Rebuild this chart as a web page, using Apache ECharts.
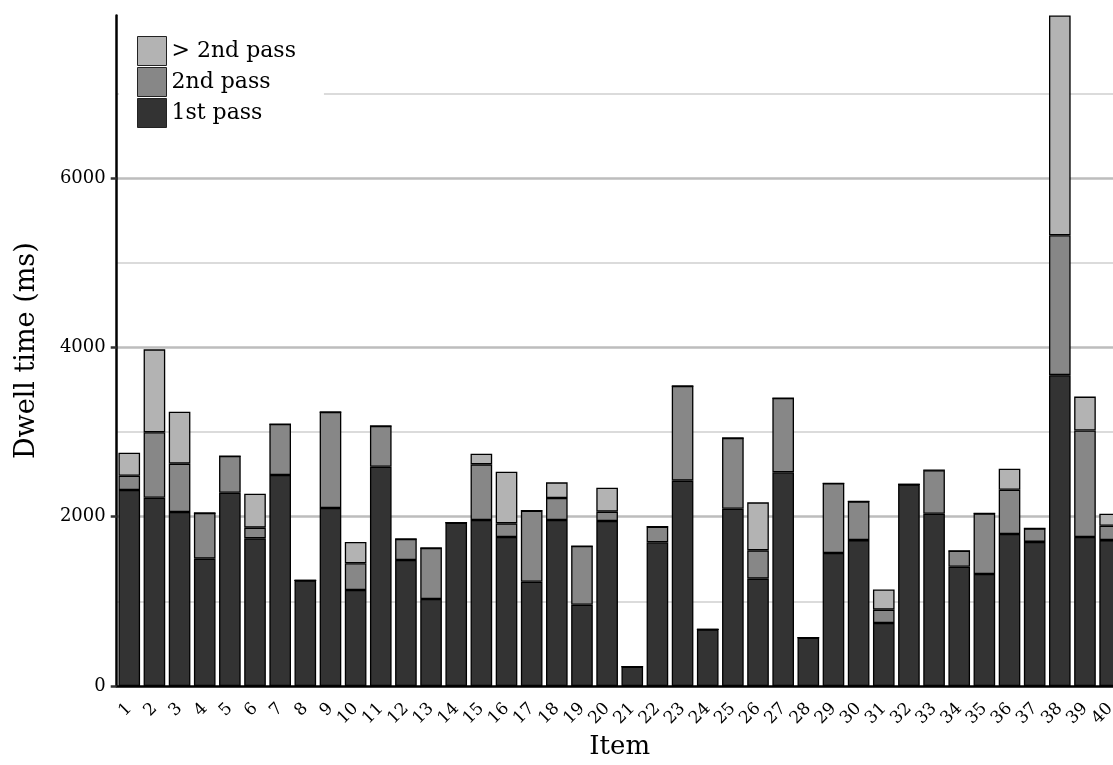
<!DOCTYPE html>
<html>
<head>
<meta charset="utf-8">
<script src="https://cdn.jsdelivr.net/npm/echarts@6/dist/echarts.min.js"></script>
<style>html,body{margin:0;padding:0;background:#fff}#c{width:1113px;height:765px}</style>
</head>
<body>
<div id="c"></div>
<script>
const items = ['1','2','3','4','5','6','7','8','9','10','11','12','13','14','15','16','17','18','19','20','21','22','23','24','25','26','27','28','29','30','31','32','33','34','35','36','37','38','39','40'];
const firstPass = [2315,2224,2055,1504,2283,1744,2492,1248,2102,1134,2590,1488,1027,1929,1960,1760,1232,1960,960,1949,228,1697,2425,669,2094,1268,2524,571,1570,1723,744,2381,2034,1408,1323,1796,1702,3671,1760,1723];
const secondPass = [169,772,571,539,433,126,602,0,1134,315,481,248,603,0,658,161,839,260,693,110,0,185,1118,0,835,334,877,0,824,458,158,0,515,189,715,522,158,1652,1258,169];
const laterPass = [271,980,614,0,0,401,0,0,0,252,0,0,0,0,126,610,0,185,0,283,0,0,0,0,0,567,0,0,0,0,237,0,0,0,0,247,0,2595,400,142];
const yTicks = [0,2000,4000,6000];

const FONT = 'DejaVu Serif';
const chart = echarts.init(document.getElementById('c'), null, {renderer:'canvas'});
const mk = (name, data, color) => ({
  name, type:'bar', stack:'t', data,
  barCategoryGap:'14%',
  itemStyle:{color, borderColor:'#000', borderWidth:1.3},
  emphasis:{disabled:true}, animation:false
});
chart.setOption({
  animation:false,
  grid:{left:116.7, top:15.4, width:1006, bottom:79, containLabel:false, outerBoundsMode:'none'},
  legend:{
    orient:'vertical', left:119, top:31,
    padding:[5,28,5,18],
    backgroundColor:'#fff',
    itemWidth:29, itemHeight:29, itemGap:1,
    icon:'rect',
    textStyle:{fontFamily:FONT, fontSize:22, color:'#000', padding:[0,0,0,0]},
    data:['> 2nd pass','2nd pass','1st pass'],
    itemStyle:{borderColor:'#222', borderWidth:1}
  },
  xAxis:{
    type:'category', data:items,
    name:'Item', nameLocation:'middle', nameGap:46,
    nameTextStyle:{fontFamily:FONT, fontSize:26, color:'#000'},
    axisLine:{lineStyle:{color:'#000', width:2.5}},
    axisTick:{alignWithLabel:true, length:6, lineStyle:{color:'#333', width:2}},
    axisLabel:{rotate:45, fontFamily:FONT, fontSize:17, color:'#000', margin:20, interval:0},
    splitLine:{show:false}
  },
  yAxis:{
    type:'value', min:0, max:7920, interval:2000,
    name:'Dwell time (ms)', nameLocation:'middle', nameGap:76,
    nameTextStyle:{fontFamily:FONT, fontSize:27, color:'#000'},
    axisLine:{show:true, lineStyle:{color:'#000', width:2.5}},
    axisTick:{show:true, length:6, customValues:yTicks, lineStyle:{color:'#333', width:2.5}},
    axisLabel:{fontFamily:FONT, fontSize:18, color:'#000', margin:11, customValues:yTicks,
      formatter:v => yTicks.includes(v) ? String(v) : ''},
    splitLine:{show:true, showMaxLine:true, showMinLine:false, lineStyle:{color:'#bdbdbd', width:2.5}},
    minorTick:{show:false, splitNumber:2},
    minorSplitLine:{show:true, lineStyle:{color:'#cfcfcf', width:1.5}}
  },
  series:[
    mk('1st pass', firstPass, '#333333'),
    mk('2nd pass', secondPass, '#878787'),
    mk('> 2nd pass', laterPass, '#b3b3b3')
  ]
});
</script>
</body>
</html>
